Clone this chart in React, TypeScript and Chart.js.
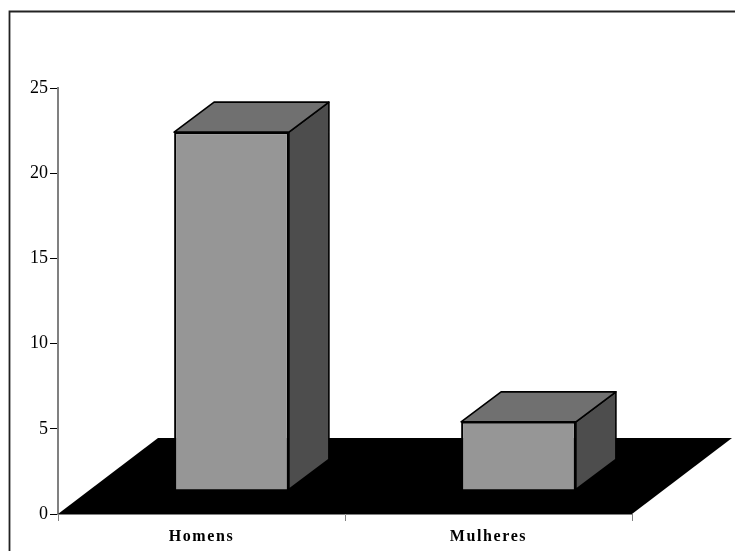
import React, { useEffect, useRef } from "react";
import { Chart, registerables, Plugin } from "chart.js";

Chart.register(...registerables);

const categories = ["Homens", "Mulheres"];
const respondents = [21, 4];
const yTicks = [0, 5, 10, 15, 20, 25];

const FRONT_COLOR = "#969696";
const TOP_COLOR = "#707070";
const SIDE_COLOR = "#4d4d4d";
const AXIS_GREY = "#808080";

// Oblique projection: how far the floor recedes, where the bars stand on it, and their depth.
const FLOOR_DEPTH = { dx: 100, dy: -76 };
const BAR_OFFSET = { dx: 30, dy: -24 };
const BAR_DEPTH = { dx: 40, dy: -30 };

function polygon(ctx: CanvasRenderingContext2D, pts: number[][], fill: string, stroke: boolean) {
  ctx.beginPath();
  pts.forEach(([x, y], i) => (i === 0 ? ctx.moveTo(x, y) : ctx.lineTo(x, y)));
  ctx.closePath();
  ctx.fillStyle = fill;
  ctx.fill();
  if (stroke) {
    ctx.strokeStyle = "#000000";
    ctx.lineWidth = 1.6;
    ctx.lineJoin = "round";
    ctx.stroke();
  }
}

// Frame runs along the top and left only, off the edge of the canvas on the other sides.
const frame: Plugin<"bar"> = {
  id: "frame",
  beforeDraw(chart) {
    const { ctx, width, height, scales } = chart;
    ctx.save();
    ctx.strokeStyle = "#222222";
    ctx.lineWidth = 1.8;
    ctx.beginPath();
    ctx.moveTo(9.5, height);
    ctx.lineTo(9.5, 11.5);
    ctx.lineTo(width, 11.5);
    ctx.stroke();
    ctx.restore();

    // Category labels are letter-spaced; the value axis labels are not.
    const x: any = scales.x;
    if (!x.__spaced) {
      const drawLabels = x.drawLabels.bind(x);
      x.drawLabels = (area: any) => {
        const c = x.ctx;
        c.save();
        c.letterSpacing = "1.6px";
        drawLabels(area);
        c.restore();
      };
      x.__spaced = true;
    }
  },
};

const floor: Plugin<"bar"> = {
  id: "floor",
  beforeDatasetsDraw(chart) {
    const { ctx, chartArea } = chart;
    const { left, right, bottom } = chartArea;
    polygon(
      ctx,
      [
        [left, bottom],
        [right, bottom],
        [right + FLOOR_DEPTH.dx, bottom + FLOOR_DEPTH.dy],
        [left + FLOOR_DEPTH.dx, bottom + FLOOR_DEPTH.dy],
      ],
      "#000000",
      false
    );
  },
};

// Side and top faces are built from each bar element, which then paints its front on top.
const extrude: Plugin<"bar"> = {
  id: "extrude",
  beforeDatasetDraw(chart, args) {
    const { ctx } = chart;
    ctx.save();
    ctx.translate(BAR_OFFSET.dx, BAR_OFFSET.dy);
    args.meta.data.forEach((el: any) => {
      const { x, y, base, width } = el.getProps(["x", "y", "base", "width"], true);
      const l = x - width / 2;
      const r = x + width / 2;
      const { dx, dy } = BAR_DEPTH;
      polygon(ctx, [[r, y], [r + dx, y + dy], [r + dx, base + dy], [r, base]], SIDE_COLOR, true);
      polygon(ctx, [[l, y], [l + dx, y + dy], [r + dx, y + dy], [r, y]], TOP_COLOR, true);
    });
  },
  afterDatasetDraw(chart) {
    chart.ctx.restore();
  },
};

export default function App() {
  const ref = useRef<HTMLCanvasElement>(null);

  useEffect(() => {
    if (!ref.current) return;
    const chart = new Chart(ref.current, {
      type: "bar",
      data: {
        labels: categories,
        datasets: [
          {
            data: respondents,
            backgroundColor: FRONT_COLOR,
            borderColor: "#000000",
            borderWidth: 2,
            barPercentage: 0.4,
            categoryPercentage: 1,
            clip: false as any,
          },
        ],
      },
      options: {
        responsive: false,
        animation: false,
        layout: { padding: { left: 0, right: 103, top: 88, bottom: 0 } },
        plugins: { legend: { display: false }, tooltip: { enabled: false } },
        scales: {
          x: {
            afterFit(scale) {
              scale.height = 37;
            },
            grid: { drawOnChartArea: false, tickLength: 7, tickColor: AXIS_GREY, offset: true },
            border: { color: AXIS_GREY },
            ticks: {
              color: "#000000",
              padding: 6,
              maxRotation: 0,
              font: { family: "'Liberation Serif'", size: 16, weight: "bold" },
            },
          },
          y: {
            min: 0,
            max: 25,
            afterBuildTicks(scale) {
              scale.ticks = yTicks.map((value) => ({ value }));
            },
            afterFit(scale) {
              scale.width = 58;
            },
            grid: { drawOnChartArea: false, tickLength: 8, tickColor: "#000000", tickWidth: 1 },
            border: { color: AXIS_GREY, width: 2 },
            ticks: {
              color: "#000000",
              padding: 2,
              font: { family: "'Liberation Serif'", size: 18 },
            },
          },
        },
      },
      plugins: [frame, floor, extrude],
    });
    return () => chart.destroy();
  }, []);

  return (
    <div style={{ position: "absolute", left: 0, top: 0, width: 735, height: 551, background: "#ffffff" }}>
      <canvas ref={ref} width={735} height={551} style={{ display: "block" }} />
    </div>
  );
}
